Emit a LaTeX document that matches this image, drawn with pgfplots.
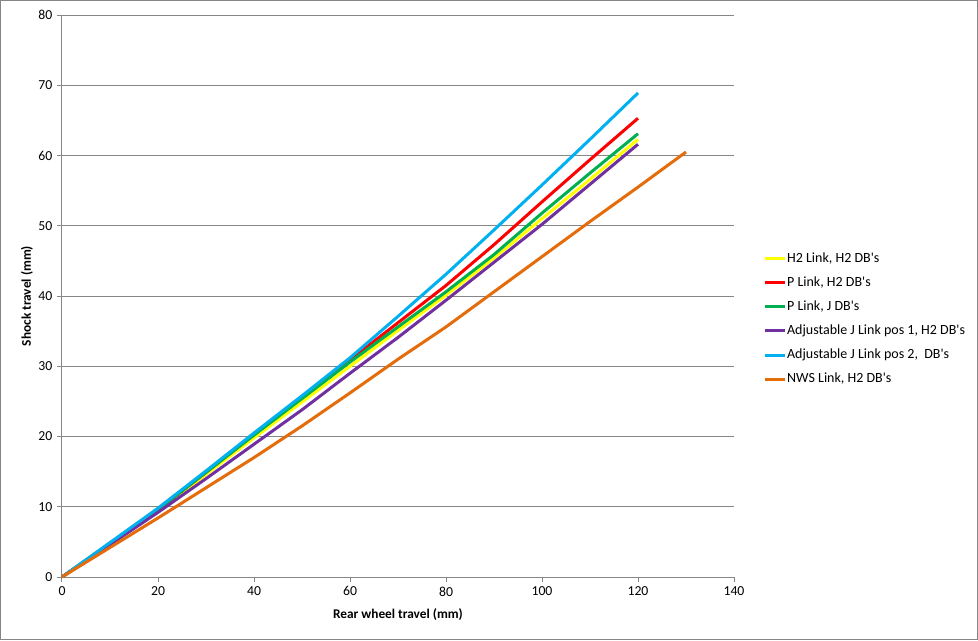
\documentclass[border=0pt]{standalone}
\usepackage{pgfplots}
\pgfplotsset{compat=1.18}
\usepackage{fontspec}
\setmainfont{Carlito}

\definecolor{xlgray}{HTML}{868686}
\definecolor{c1}{HTML}{FFFF00}
\definecolor{c2}{HTML}{FF0000}
\definecolor{c3}{HTML}{00B050}
\definecolor{c4}{HTML}{7030A0}
\definecolor{c5}{HTML}{00B0F0}
\definecolor{c6}{HTML}{E46C0A}

\begin{document}
\begin{tikzpicture}
% 1px of the reference = 0.75pt
\useasboundingbox (-46.5pt,-47.25pt) rectangle (687pt,432.75pt);
\draw[xlgray, line width=0.75pt] (-46.1pt,-46.85pt) rectangle (686.6pt,432.35pt);
\begin{axis}[
  scale only axis, width=504pt, height=421.5pt,
  xmin=0, xmax=140, ymin=0, ymax=80,
  xtick={0,20,...,140}, ytick={0,10,...,80},
  axis x line=bottom, axis y line=left,
  axis line style={xlgray, line width=0.75pt, -},
  ymajorgrids, grid style={xlgray, line width=0.75pt},
  tick style={xlgray, line width=0.75pt},
  tick align=outside, major tick length=3.75pt,
  font=\fontsize{10}{12}\selectfont,
  ticklabel style={font=\fontsize{10.3}{12}\selectfont, text=black},
  /pgf/number format/assume math mode=true,
  xlabel={\bfseries Rear wheel travel (mm)},
  ylabel={\bfseries Shock travel (mm)},
  xlabel style={at={(axis description cs:0.5,0)}, anchor=center, yshift=-28.5pt},
  ylabel style={at={(axis description cs:0,0.5)}, anchor=center, yshift=26.25pt},
  legend style={draw=none, fill=none, at={(1.0432,0.583)}, anchor=north west,
    font=\fontsize{10.5}{12}\selectfont, row sep=4.25pt, inner sep=0pt,
    nodes={inner xsep=0.6pt, inner ysep=2.5pt, anchor=west}},
  legend cell align=left,
  legend image code/.code={\draw[#1, line width=2.25pt] (0pt,0pt) -- (15pt,0pt);},
  every axis plot/.append style={line width=2.25pt, line join=round},
]
\addplot[c1] coordinates {(0,0) (10,4.7) (20,9.4) (30,14.6) (40,19.8) (50,24.9) (60,30.0) (70,35.1) (80,40.1) (90,45.4) (100,51.0) (110,56.6) (120,62.3)};
\addlegendentry{H2 Link, H2 DB\textquotesingle s}
\addplot[c2] coordinates {(0,0) (10,4.8) (20,9.6) (30,14.9) (40,20.3) (50,25.6) (60,30.9) (70,36.2) (80,41.5) (90,47.3) (100,53.4) (110,59.4) (120,65.3)};
\addlegendentry{P Link, H2 DB\textquotesingle s}
\addplot[c3] coordinates {(0,0) (10,4.8) (20,9.6) (30,14.9) (40,20.2) (50,25.4) (60,30.6) (70,35.6) (80,40.6) (90,45.9) (100,51.8) (110,57.5) (120,63.1)};
\addlegendentry{P Link, J DB\textquotesingle s}
\addplot[c4] coordinates {(0,0) (10,4.6) (20,9.2) (30,14.0) (40,18.9) (50,23.8) (60,29.0) (70,34.1) (80,39.4) (90,44.8) (100,50.2) (110,55.9) (120,61.6)};
\addlegendentry{Adjustable J Link pos 1, H2 DB\textquotesingle s}
\addplot[c5] coordinates {(0,0) (10,4.9) (20,9.8) (30,15.1) (40,20.5) (50,25.8) (60,31.2) (70,37.1) (80,43.1) (90,49.4) (100,55.8) (110,62.3) (120,68.9)};
\addlegendentry{Adjustable J Link pos 2,~ DB\textquotesingle s}
\addplot[c6] coordinates {(0,0) (10,4.2) (20,8.4) (30,12.7) (40,17.0) (50,21.5) (60,26.2) (70,31.0) (80,35.6) (90,40.6) (100,45.6) (110,50.6) (120,55.5) (130,60.5)};
\addlegendentry{NWS Link, H2 DB\textquotesingle s}
\end{axis}
\end{tikzpicture}
\end{document}
